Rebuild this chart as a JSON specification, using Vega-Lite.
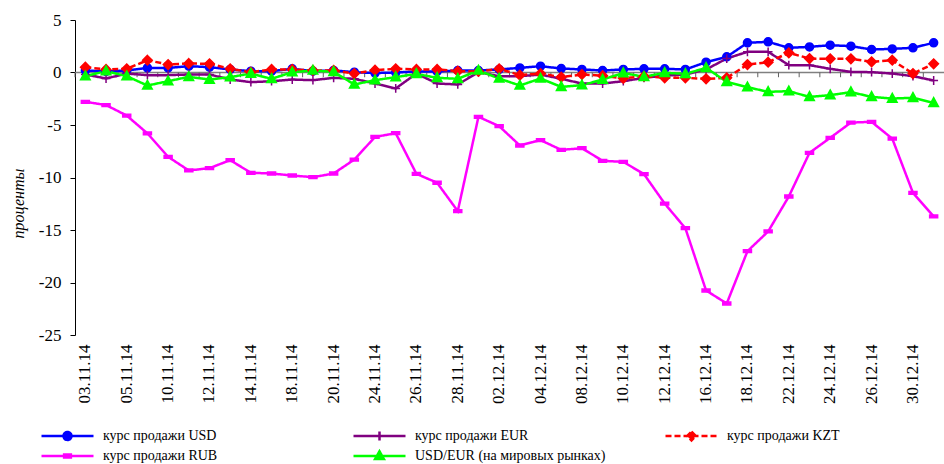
{
  "$schema": "https://vega.github.io/schema/vega-lite/v6.json",
  "width": 869,
  "height": 315,
  "autosize": "none",
  "padding": {"left": 75, "top": 20, "right": 0, "bottom": 129},
  "background": "white",
  "config": {"view": {"stroke": null}, "font": "Liberation Serif"},
  "data": {"values": [
    {"d": "03.11.14", "курс продажи USD": 0.19, "курс продажи EUR": -0.19, "курс продажи KZT": 0.51, "курс продажи RUB": -2.79, "USD/EUR (на мировых рынках)": -0.35},
    {"d": "04.11.14", "курс продажи USD": 0.10, "курс продажи EUR": -0.57, "курс продажи KZT": 0.29, "курс продажи RUB": -3.10, "USD/EUR (на мировых рынках)": 0.13},
    {"d": "05.11.14", "курс продажи USD": 0.19, "курс продажи EUR": -0.10, "курс продажи KZT": 0.35, "курс продажи RUB": -4.10, "USD/EUR (на мировых рынках)": -0.35},
    {"d": "06.11.14", "курс продажи USD": 0.44, "курс продажи EUR": -0.25, "курс продажи KZT": 1.17, "курс продажи RUB": -5.80, "USD/EUR (на мировых рынках)": -1.24},
    {"d": "10.11.14", "курс продажи USD": 0.44, "курс продажи EUR": -0.25, "курс продажи KZT": 0.76, "курс продажи RUB": -8.03, "USD/EUR (на мировых рынках)": -0.83},
    {"d": "11.11.14", "курс продажи USD": 0.60, "курс продажи EUR": -0.19, "курс продажи KZT": 0.86, "курс продажи RUB": -9.33, "USD/EUR (на мировых рынках)": -0.41},
    {"d": "12.11.14", "курс продажи USD": 0.51, "курс продажи EUR": -0.19, "курс продажи KZT": 0.83, "курс продажи RUB": -9.11, "USD/EUR (на мировых рынках)": -0.67},
    {"d": "13.11.14", "курс продажи USD": 0.29, "курс продажи EUR": -0.67, "курс продажи KZT": 0.35, "курс продажи RUB": -8.35, "USD/EUR (на мировых рынках)": -0.44},
    {"d": "14.11.14", "курс продажи USD": 0.13, "курс продажи EUR": -0.92, "курс продажи KZT": 0.03, "курс продажи RUB": -9.55, "USD/EUR (на мировых рынках)": -0.10},
    {"d": "17.11.14", "курс продажи USD": 0.13, "курс продажи EUR": -0.83, "курс продажи KZT": 0.29, "курс продажи RUB": -9.62, "USD/EUR (на мировых рынках)": -0.60},
    {"d": "18.11.14", "курс продажи USD": 0.35, "курс продажи EUR": -0.67, "курс продажи KZT": 0.29, "курс продажи RUB": -9.81, "USD/EUR (на мировых рынках)": 0.03},
    {"d": "19.11.14", "курс продажи USD": 0.13, "курс продажи EUR": -0.73, "курс продажи KZT": 0.20, "курс продажи RUB": -9.97, "USD/EUR (на мировых рынках)": 0.19},
    {"d": "20.11.14", "курс продажи USD": 0.20, "курс продажи EUR": -0.51, "курс продажи KZT": 0.20, "курс продажи RUB": -9.62, "USD/EUR (на мировых рынках)": 0.06},
    {"d": "21.11.14", "курс продажи USD": 0.03, "курс продажи EUR": -0.60, "курс продажи KZT": -0.10, "курс продажи RUB": -8.29, "USD/EUR (на мировых рынках)": -1.14},
    {"d": "24.11.14", "курс продажи USD": -0.05, "курс продажи EUR": -1.05, "курс продажи KZT": 0.22, "курс продажи RUB": -6.14, "USD/EUR (на мировых рынках)": -0.73},
    {"d": "25.11.14", "курс продажи USD": 0.00, "курс продажи EUR": -1.52, "курс продажи KZT": 0.35, "курс продажи RUB": -5.78, "USD/EUR (на мировых рынках)": -0.44},
    {"d": "26.11.14", "курс продажи USD": 0.10, "курс продажи EUR": -0.10, "курс продажи KZT": 0.29, "курс продажи RUB": -9.65, "USD/EUR (на мировых рынках)": -0.13},
    {"d": "27.11.14", "курс продажи USD": 0.10, "курс продажи EUR": -1.05, "курс продажи KZT": 0.29, "курс продажи RUB": -10.50, "USD/EUR (на мировых рынках)": -0.51},
    {"d": "28.11.14", "курс продажи USD": 0.19, "курс продажи EUR": -1.14, "курс продажи KZT": 0.13, "курс продажи RUB": -13.20, "USD/EUR (на мировых рынках)": -0.60},
    {"d": "01.12.14", "курс продажи USD": 0.19, "курс продажи EUR": 0.03, "курс продажи KZT": 0.10, "курс продажи RUB": -4.22, "USD/EUR (на мировых рынках)": 0.19},
    {"d": "02.12.14", "курс продажи USD": 0.29, "курс продажи EUR": -0.35, "курс продажи KZT": 0.35, "курс продажи RUB": -5.11, "USD/EUR (на мировых рынках)": -0.57},
    {"d": "03.12.14", "курс продажи USD": 0.44, "курс продажи EUR": -0.35, "курс продажи KZT": -0.25, "курс продажи RUB": -6.95, "USD/EUR (на мировых рынках)": -1.24},
    {"d": "04.12.14", "курс продажи USD": 0.60, "курс продажи EUR": -0.20, "курс продажи KZT": -0.10, "курс продажи RUB": -6.44, "USD/EUR (на мировых рынках)": -0.57},
    {"d": "05.12.14", "курс продажи USD": 0.38, "курс продажи EUR": -0.60, "курс продажи KZT": -0.44, "курс продажи RUB": -7.37, "USD/EUR (на мировых рынках)": -1.37},
    {"d": "08.12.14", "курс продажи USD": 0.29, "курс продажи EUR": -1.05, "курс продажи KZT": -0.19, "курс продажи RUB": -7.21, "USD/EUR (на мировых рынках)": -1.21},
    {"d": "09.12.14", "курс продажи USD": 0.19, "курс продажи EUR": -1.05, "курс продажи KZT": -0.30, "курс продажи RUB": -8.41, "USD/EUR (на мировых рынках)": -0.67},
    {"d": "10.12.14", "курс продажи USD": 0.29, "курс продажи EUR": -0.83, "курс продажи KZT": -0.55, "курс продажи RUB": -8.51, "USD/EUR (на мировых рынках)": -0.05},
    {"d": "11.12.14", "курс продажи USD": 0.35, "курс продажи EUR": -0.51, "курс продажи KZT": -0.35, "курс продажи RUB": -9.68, "USD/EUR (на мировых рынках)": -0.41},
    {"d": "12.12.14", "курс продажи USD": 0.35, "курс продажи EUR": -0.29, "курс продажи KZT": -0.51, "курс продажи RUB": -12.48, "USD/EUR (на мировых рынках)": -0.03},
    {"d": "15.12.14", "курс продажи USD": 0.29, "курс продажи EUR": -0.19, "курс продажи KZT": -0.51, "курс продажи RUB": -14.83, "USD/EUR (на мировых рынках)": -0.13},
    {"d": "16.12.14", "курс продажи USD": 0.98, "курс продажи EUR": 0.29, "курс продажи KZT": -0.60, "курс продажи RUB": -20.76, "USD/EUR (на мировых рынках)": 0.44},
    {"d": "17.12.14", "курс продажи USD": 1.49, "курс продажи EUR": 1.33, "курс продажи KZT": -0.51, "курс продажи RUB": -22.00, "USD/EUR (на мировых рынках)": -0.89},
    {"d": "18.12.14", "курс продажи USD": 2.83, "курс продажи EUR": 1.97, "курс продажи KZT": 0.76, "курс продажи RUB": -17.02, "USD/EUR (на мировых рынках)": -1.40},
    {"d": "19.12.14", "курс продажи USD": 2.92, "курс продажи EUR": 1.97, "курс продажи KZT": 0.98, "курс продажи RUB": -15.14, "USD/EUR (на мировых рынках)": -1.84},
    {"d": "22.12.14", "курс продажи USD": 2.35, "курс продажи EUR": 0.70, "курс продажи KZT": 1.87, "курс продажи RUB": -11.81, "USD/EUR (на мировых рынках)": -1.78},
    {"d": "23.12.14", "курс продажи USD": 2.44, "курс продажи EUR": 0.70, "курс продажи KZT": 1.33, "курс продажи RUB": -7.65, "USD/EUR (на мировых рынках)": -2.32},
    {"d": "24.12.14", "курс продажи USD": 2.60, "курс продажи EUR": 0.35, "курс продажи KZT": 1.30, "курс продажи RUB": -6.22, "USD/EUR (на мировых рынках)": -2.16},
    {"d": "25.12.14", "курс продажи USD": 2.51, "курс продажи EUR": 0.06, "курс продажи KZT": 1.30, "курс продажи RUB": -4.77, "USD/EUR (на мировых рынках)": -1.87},
    {"d": "26.12.14", "курс продажи USD": 2.19, "курс продажи EUR": 0.03, "курс продажи KZT": 1.02, "курс продажи RUB": -4.70, "USD/EUR (на мировых рынках)": -2.32},
    {"d": "29.12.14", "курс продажи USD": 2.25, "курс продажи EUR": -0.10, "курс продажи KZT": 1.17, "курс продажи RUB": -6.30, "USD/EUR (на мировых рынках)": -2.48},
    {"d": "30.12.14", "курс продажи USD": 2.35, "курс продажи EUR": -0.35, "курс продажи KZT": -0.10, "курс продажи RUB": -11.46, "USD/EUR (на мировых рынках)": -2.41},
    {"d": "31.12.14", "курс продажи USD": 2.83, "курс продажи EUR": -0.76, "курс продажи KZT": 0.83, "курс продажи RUB": -13.71, "USD/EUR (на мировых рынках)": -2.89}
  ]},
  "layer": [
    {
      "data": {"values": [{}]},
      "mark": {"type": "rule", "color": "#808080", "strokeWidth": 1.5},
      "encoding": {"y": {"datum": 0, "type": "quantitative"}}
    },
    {
      "mark": {"type": "rule", "color": "#606060", "strokeWidth": 1},
      "encoding": {
        "x": {"field": "d", "type": "ordinal", "sort": null, "bandPosition": 0},
        "y": {"datum": 0, "type": "quantitative"},
        "y2": {"datum": -0.45}
      }
    },
    {
      "transform": [
        {"fold": ["курс продажи USD", "курс продажи EUR", "курс продажи KZT", "курс продажи RUB", "USD/EUR (на мировых рынках)"], "as": ["series", "value"]}
      ],
      "mark": {"type": "line", "strokeWidth": 2.5},
      "encoding": {
        "x": {
          "field": "d", "type": "ordinal", "sort": null, "bandPosition": 0.5,
          "scale": {"type": "band", "paddingInner": 0, "paddingOuter": 0},
          "axis": {
            "title": null,
            "values": ["03.11.14", "05.11.14", "10.11.14", "12.11.14", "14.11.14", "18.11.14", "20.11.14", "24.11.14", "26.11.14", "28.11.14", "02.12.14", "04.12.14", "08.12.14", "10.12.14", "12.12.14", "16.12.14", "18.12.14", "22.12.14", "24.12.14", "26.12.14", "30.12.14"],
            "labelAngle": -90, "labelFontSize": 17, "labelFont": "Liberation Serif", "labelColor": "black",
            "ticks": false, "domain": false, "labelPadding": 9, "labelBaseline": "middle"
          }
        },
        "y": {
          "field": "value", "type": "quantitative",
          "scale": {"domain": [-25, 5], "nice": false, "zero": false},
          "axis": {
            "values": [-25, -20, -15, -10, -5, 0, 5],
            "labelExpr": "'' + datum.value",
            "title": "проценты", "titleFont": "Liberation Serif", "titleFontStyle": "italic", "titleFontWeight": "normal",
            "titleFontSize": 16, "titleColor": "black", "titleX": -57, "titleY": 183, "titleBaseline": "middle", "titleAlign": "center",
            "labelFont": "Liberation Serif", "labelFontSize": 17, "labelColor": "black",
            "tickColor": "black", "domainColor": "black", "tickSize": 5, "labelPadding": 9, "grid": false
          }
        },
        "color": {
          "field": "series", "type": "nominal",
          "scale": {
            "domain": ["курс продажи USD", "курс продажи EUR", "курс продажи KZT", "курс продажи RUB", "USD/EUR (на мировых рынках)"],
            "range": ["#0000FF", "#800080", "#FF0000", "#FF00FF", "#00FF00"]
          },
          "legend": {
            "title": null, "orient": "none", "legendX": -35, "legendY": 408,
            "direction": "horizontal", "columns": 3, "gridAlign": "all", "columnPadding": 58, "rowPadding": 4,
            "clipHeight": 16, "labelLimit": 400,
            "symbolSize": 2704, "symbolStrokeWidth": 2.5, "symbolType": "M-1,0H1",
            "labelFont": "Liberation Serif", "labelFontSize": 14, "labelColor": "black", "labelOffset": 8,
            "encode": {
              "symbols": {
                "update": {
                  "shape": {"signal": "datum.value === 'курс продажи USD' ? 'M-1,0H1M0.154,0A0.154,0.154,0,1,1,-0.154,0A0.154,0.154,0,1,1,0.154,0Z' : datum.value === 'курс продажи EUR' ? 'M-1,0H1M0,-0.17V0.17' : datum.value === 'курс продажи KZT' ? 'M-1,0H1M0,-0.17L0.17,0L0,0.17L-0.17,0Z' : datum.value === 'курс продажи RUB' ? 'M-1,0H1M-0.13,-0.06H0.13V0.06H-0.13Z' : 'M-1,0H1M0,-0.18L0.17,0.12L-0.17,0.12Z'"},
                  "fill": {"signal": "scale('color', datum.value)"},
                  "strokeDash": {"signal": "datum.value === 'курс продажи KZT' ? [5, 3] : []"}
                }
              }
            }
          }
        },
        "strokeDash": {
          "field": "series", "type": "nominal",
          "scale": {
            "domain": ["курс продажи USD", "курс продажи EUR", "курс продажи KZT", "курс продажи RUB", "USD/EUR (на мировых рынках)"],
            "range": [[1, 0], [1, 0], [6, 3], [1, 0], [1, 0]]
          },
          "legend": null
        }
      }
    },
    {
      "transform": [
        {"fold": ["курс продажи USD", "курс продажи EUR", "курс продажи KZT", "курс продажи RUB", "USD/EUR (на мировых рынках)"], "as": ["s", "value"]}
      ],
      "mark": {"type": "point", "filled": true, "opacity": 1, "strokeWidth": 1.5, "size": 64},
      "encoding": {
        "x": {"field": "d", "type": "ordinal", "sort": null, "bandPosition": 0.5},
        "y": {"field": "value", "type": "quantitative"},
        "fill": {
          "field": "s", "type": "nominal",
          "scale": {
            "domain": ["USD/EUR (на мировых рынках)", "курс продажи EUR", "курс продажи KZT", "курс продажи RUB", "курс продажи USD"],
            "range": ["#00FF00", "#800080", "#FF0000", "#FF00FF", "#0000FF"]
          },
          "legend": null
        },
        "stroke": {
          "field": "s", "type": "nominal",
          "scale": {
            "domain": ["USD/EUR (на мировых рынках)", "курс продажи EUR", "курс продажи KZT", "курс продажи RUB", "курс продажи USD"],
            "range": ["#00FF00", "#800080", "#FF0000", "#FF00FF", "#0000FF"]
          },
          "legend": null
        },
        "shape": {
          "field": "s", "type": "nominal",
          "scale": {
            "domain": ["USD/EUR (на мировых рынках)", "курс продажи EUR", "курс продажи KZT", "курс продажи RUB", "курс продажи USD"],
            "range": ["M0,-1.3L1.2,0.9L-1.2,0.9Z", "M-1.1,0H1.1M0,-1.1V1.1", "M0,-1.2L1.2,0L0,1.2L-1.2,0Z", "M-1,-0.35H1V0.35H-1Z", "circle"]
          },
          "legend": null
        }
      }
    }
  ]
}
